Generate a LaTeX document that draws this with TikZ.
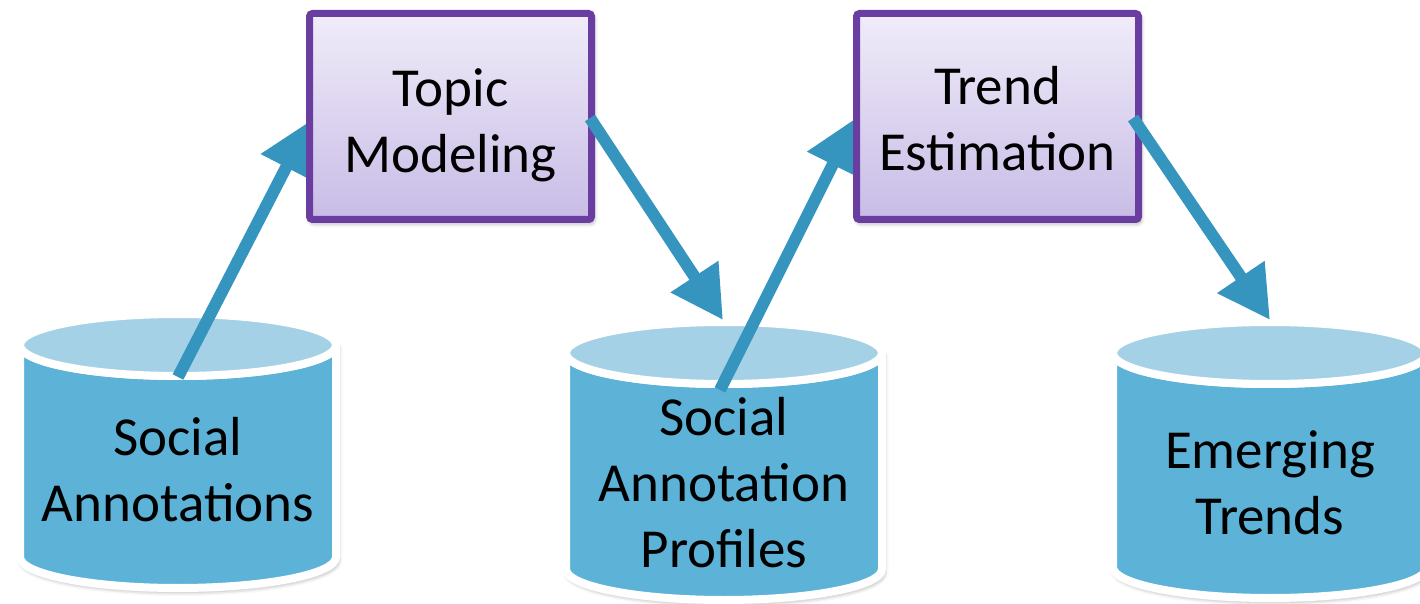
\documentclass[tikz,border=0pt]{standalone}
\usepackage{fontspec}
\setmainfont{Carlito}
\usetikzlibrary{arrows.meta,shadows.blur}

\definecolor{flowblue}{RGB}{54,149,190}
\definecolor{drumbody}{RGB}{93,178,216}
\definecolor{drumtop}{RGB}{165,209,231}
\definecolor{stepedge}{RGB}{106,62,160}
\definecolor{steptop}{RGB}{240,236,249}
\definecolor{stepbot}{RGB}{200,188,230}

% data store: cx, top y, bottom y, x radius, y radius (pixel units)
\newcommand\drawdrum[5]{%
  \path[drumside] ({#1-#4},#2) -- ({#1-#4},#3)
    arc[start angle=180,end angle=0,x radius=#4,y radius=#5]
    -- ({#1+#4},#2)
    arc[start angle=0,end angle=180,x radius=#4,y radius=#5] -- cycle;
  \path[drumlid] (#1,#2) ellipse[x radius=#4,y radius=#5];
}

\begin{document}
\begin{tikzpicture}[x=0.5pt,y=-0.5pt,
  softshadow/.style={blur shadow={shadow xshift=0.8pt,shadow yshift=-1.5pt,
      shadow blur radius=2.5pt,shadow opacity=45}},
  lbl/.style={font=\fontsize{27.5pt}{33pt}\selectfont,align=center,inner sep=0pt},
  procbox/.style={draw=stepedge,line width=3.5pt,rounded corners=1.5pt,
      top color=steptop,bottom color=stepbot,minimum width=141pt,
      minimum height=103pt,inner sep=0pt,softshadow},
  flow/.style={draw=flowblue,line width=6pt,-{Triangle[length=26pt,width=27pt]}},
  drumside/.style={fill=drumbody,draw=white,line width=4pt,line join=round,softshadow},
  drumlid/.style={fill=drumtop,draw=white,line width=4pt}
]
\useasboundingbox (0,0) rectangle (1420,604);

% data stores
\drawdrum{178}{345}{557}{158}{31}
\drawdrum{724}{353}{569}{158}{31}
\drawdrum{1270}{353}{567}{157}{31}

% connector end points on the stores
\coordinate (saout) at (178,377);
\coordinate (sapin) at (723,320);
\coordinate (sapout) at (720,390);
\coordinate (etin) at (1270,320);

% connectors that run under the process boxes
\coordinate (tmin) at (310,121);
\coordinate (tein) at (856,118);
\draw[flow] (saout) -- (tmin);
\draw[flow] (sapout) -- (tein);

% process boxes
\node[procbox] (tm) at (450.5,116.5) {};
\node[lbl] (tmtext) at (450.5,125.5) {Topic\\Modeling};
\node[procbox] (te) at (997.5,116.5) {};
\node[lbl] (tetext) at (997.5,118.5) {Trend\\Estimation};

% connectors leaving the process boxes
\coordinate (tmout) at ([xshift=-2.5pt,yshift=-0.75pt]tm.east);
\coordinate (teout) at ([xshift=-4.5pt,yshift=-0.75pt]te.east);
\draw[flow] (tmout) -- (sapin);
\draw[flow] (teout) -- (etin);

% store labels
\node[lbl] (sa) at (178,469.5) {Social\\Annotations};
\node[lbl] (sap) at (724,483) {Social\\Annotation\\Profiles};
\node[lbl] (et) at (1270,482.5) {Emerging\\Trends};
\end{tikzpicture}
\end{document}
